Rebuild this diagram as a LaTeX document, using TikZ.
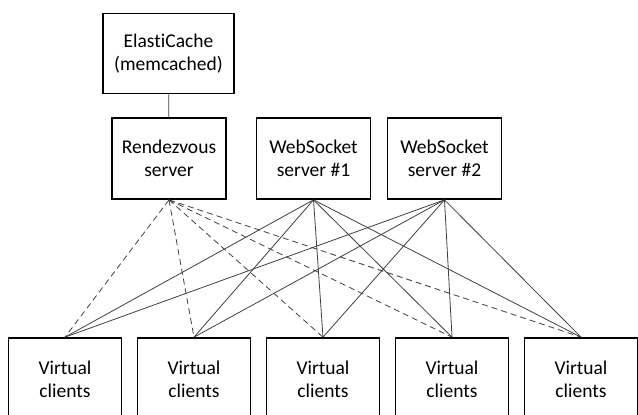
\documentclass[tikz,border=0pt]{standalone}
\usepackage{fontspec}
\setmainfont{Carlito}[Ligatures=NoCommon]

\begin{document}
\begin{tikzpicture}[x=1pt,y=-1pt,
  box/.style={draw,line width=1.7pt,align=center,minimum width=114pt,minimum height=81pt,
    font=\fontsize{19.5}{23.5}\selectfont},
  link/.style={color=black!75,line width=0.8pt},
  dlink/.style={link,dash pattern=on 6pt off 4pt}]
\useasboundingbox (0,0) rectangle (638,415);
\node[box,minimum width=131pt,minimum height=80pt] (cache) at (168.5,53.5) {ElastiCache\\(memcached)};
\node[box] (rdv) at (169,158.5) {Rendezvous\\server};
\node[box] (ws1) at (313.5,158.5) {WebSocket\\server \#1};
\node[box] (ws2) at (444.5,158.5) {WebSocket\\server \#2};
\foreach \x [count=\i] in {65,194,323,452,581}
  \node[box,minimum width=113pt,minimum height=83pt] (vc\i) at (\x,379.5) {Virtual\\clients};
\draw [link] (cache) -- (rdv);
\foreach \i in {1,...,5} {
  \draw [dlink] (rdv.south) -- (vc\i.north);
  \draw [link] (ws1.south) -- (vc\i.north);
  \draw [link] (ws2.south) -- (vc\i.north);
}
\end{tikzpicture}
\end{document}
